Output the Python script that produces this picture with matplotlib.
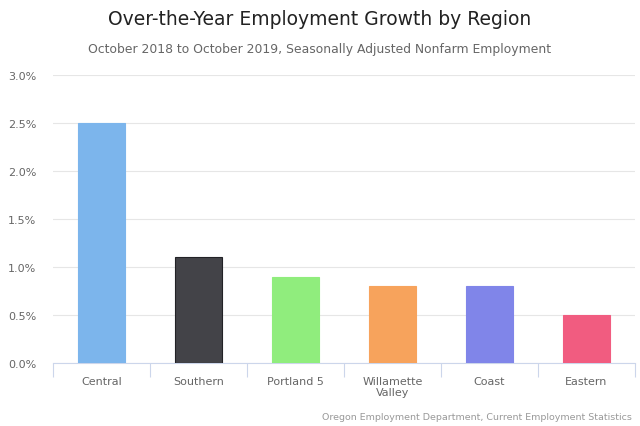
import matplotlib
matplotlib.use("Agg")
import matplotlib.pyplot as plt
from matplotlib.ticker import FuncFormatter, FixedLocator
import numpy as np

regions = ['Central', 'Southern', 'Portland 5', 'Willamette\nValley', 'Coast', 'Eastern']
growth = [2.5, 1.1, 0.9, 0.8, 0.8, 0.5]
colors = ['#7cb5ec', '#434348', '#90ed7d', '#f7a35c', '#8085e9', '#f15c80']
edges = ['#7cb5ec', '#222226', '#90ed7d', '#f7a35c', '#8085e9', '#f15c80']

fig = plt.figure(figsize=(6.4, 4.27), dpi=100)
ax = fig.add_axes([0.083, 0.1475, 0.909, 0.6745])

x = np.arange(len(regions))
ax.bar(x, growth, width=0.49, color=colors, edgecolor=edges, linewidth=0.8, zorder=3)

ax.set_xlim(-0.5, len(regions) - 0.5)
ax.set_ylim(0, 3.0)
ax.set_yticks(np.arange(0, 3.01, 0.5))
ax.yaxis.set_major_formatter(FuncFormatter(lambda v, p: f"{v:.1f}%"))
ax.grid(axis='y', color='#e6e6e6', linewidth=0.8, zorder=0)

ax.set_xticks(x)
ax.set_xticklabels(regions)
# ticks sit between the categories
ax.xaxis.set_minor_locator(FixedLocator(np.arange(-0.5, len(regions), 1.0)))
ax.tick_params(axis='x', which='major', length=0, pad=9, labelsize=8, labelcolor='#666666')
ax.tick_params(axis='x', which='minor', length=10, color='#ccd6eb', width=0.8)
ax.tick_params(axis='y', length=0, pad=12, labelsize=8, labelcolor='#666666')

for s in ['top', 'right', 'left']:
    ax.spines[s].set_visible(False)
ax.spines['bottom'].set_color('#ccd6eb')
ax.spines['bottom'].set_linewidth(0.8)

fig.text(0.5, 0.955, "Over-the-Year Employment Growth by Region", ha='center', va='center',
         fontsize=13.5, color='#222222')
fig.text(0.5, 0.883, "October 2018 to October 2019, Seasonally Adjusted Nonfarm Employment",
         ha='center', va='center', fontsize=8.9, color='#666666')
fig.text(0.988, 0.022, "Oregon Employment Department, Current Employment Statistics",
         ha='right', va='center', fontsize=6.8, color='#999999')

fig.savefig("out.png", dpi=100)
